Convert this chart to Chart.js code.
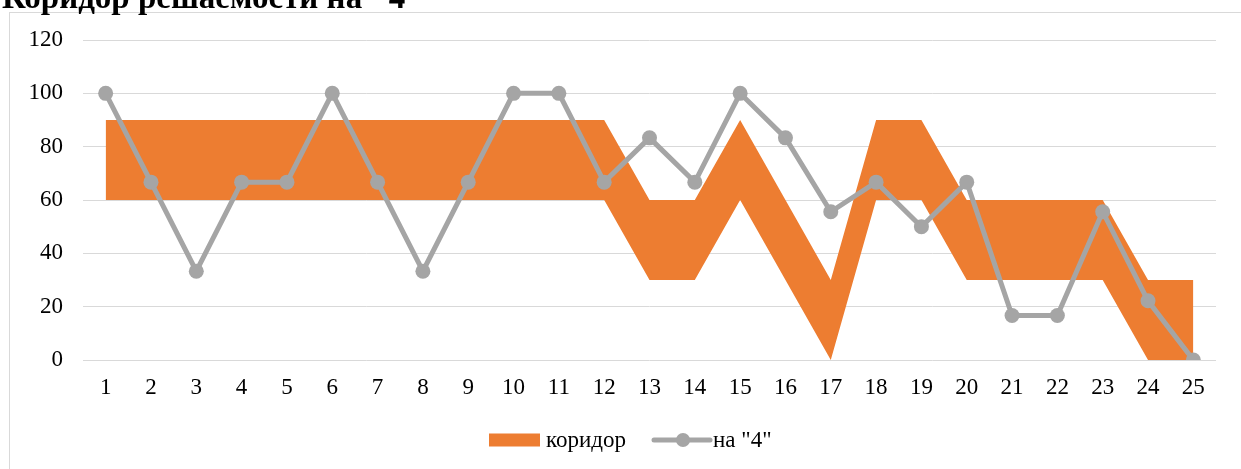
<!DOCTYPE html>
<html lang="ru">
<head>
<meta charset="utf-8">
<title>Коридор решаемости на "4"</title>
<script src="https://cdn.jsdelivr.net/npm/chart.js@4/dist/chart.umd.min.js"></script>
<style>
    html, body { margin: 0; padding: 0; background: #fff; overflow: hidden; }
    #wrap { position: relative; width: 1241px; height: 469px; }
    #frame {
        position: absolute; left: 9px; top: 12px; right: -10px; bottom: -10px;
        border-top: 1px solid #D9D9D9; border-left: 1px solid #D9D9D9;
    }
    #title {
        position: absolute; left: 2px; top: -19px;
        font: bold 33px/33px "Liberation Serif", "Times New Roman", serif;
        color: #000; white-space: nowrap;
    }
    #chart { position: absolute; left: 0; top: 0; }
</style>
</head>
<body>
<div id="wrap">
    <div id="frame"></div>
    <canvas id="chart" width="1241" height="469"></canvas>
    <div id="title">Коридор решаемости на "4"</div>
</div>
<script>
// --- Данные ---
const tasks = ['1','2','3','4','5','6','7','8','9','10','11','12','13',
               '14','15','16','17','18','19','20','21','22','23','24','25'];
// нижняя и верхняя граница коридора
const corridorLow  = [60,60,60,60,60,60,60,60,60,60,60,60,30,30,60,30,0,60,60,30,30,30,30,0,0];
const corridorHigh = [90,90,90,90,90,90,90,90,90,90,90,90,60,60,90,60,30,90,90,60,60,60,60,30,30];
// процент решения на "4"
const grade4 = [100,66.7,33.3,66.7,66.7,100,66.7,33.3,66.7,100,100,66.7,83.3,66.7,100,83.3,55.6,66.7,50,66.7,16.7,16.7,55.6,22.2,0];
const yTicks = [0,20,40,60,80,100,120];

const ORANGE = '#ED7D31';
const GREY = '#A5A5A5';
const FONT = '"Liberation Serif", "Times New Roman", serif';

// --- Легенда внизу (полоса + линия с маркером) ---
const legendPlugin = {
    id: 'bottomLegend',
    afterDraw(chart) {
        const ctx = chart.ctx;
        const y = 440;
        ctx.save();
        ctx.font = '23px ' + FONT;
        ctx.fillStyle = '#000';
        ctx.textBaseline = 'middle';

        // коридор
        let x = 489;
        ctx.fillStyle = ORANGE;
        ctx.fillRect(x, y - 6.5, 51, 13);
        ctx.fillStyle = '#000';
        ctx.fillText(chart.data.datasets[2].label, x + 57, y + 1);

        // на "4"
        x = 654;
        ctx.strokeStyle = GREY;
        ctx.lineWidth = 5;
        ctx.lineCap = 'round';
        ctx.beginPath();
        ctx.moveTo(x, y);
        ctx.lineTo(x + 56, y);
        ctx.stroke();
        ctx.fillStyle = GREY;
        ctx.beginPath();
        ctx.arc(x + 29, y, 7, 0, Math.PI * 2);
        ctx.fill();
        ctx.fillStyle = '#000';
        ctx.fillText(chart.data.datasets[0].label, x + 59, y + 1);
        ctx.restore();
    }
};

const chart = new Chart(document.getElementById('chart'), {
    type: 'line',
    data: {
        labels: tasks,
        datasets: [
            {
                label: 'на "4"',
                data: grade4,
                borderColor: GREY,
                backgroundColor: GREY,
                borderWidth: 5,
                pointRadius: 7.5,
                pointBorderWidth: 0,
                pointBackgroundColor: GREY,
                tension: 0,
                fill: false
            },
            {
                label: 'низ',
                data: corridorLow,
                borderWidth: 0,
                pointRadius: 0,
                borderColor: 'rgba(0,0,0,0)',
                fill: false
            },
            {
                label: 'коридор',
                data: corridorHigh,
                borderWidth: 0,
                pointRadius: 0,
                borderColor: 'rgba(0,0,0,0)',
                backgroundColor: ORANGE,
                fill: 1
            }
        ]
    },
    options: {
        responsive: false,
        devicePixelRatio: 1,
        animation: false,
        layout: { padding: { top: 40, right: 25, bottom: 64, left: 0 } },
        plugins: {
            legend: { display: false },
            tooltip: { enabled: false }
        },
        scales: {
            x: {
                offset: true,
                grid: { display: false, drawTicks: false },
                border: { display: false },
                ticks: {
                    color: '#000',
                    font: { family: FONT, size: 23 },
                    padding: 14,
                    maxRotation: 0,
                    autoSkip: false
                },
                afterFit(scale) { scale.height = 45; }
            },
            y: {
                min: 0,
                max: 120,
                afterBuildTicks(scale) { scale.ticks = yTicks.map(v => ({ value: v })); },
                grid: { color: '#D9D9D9', lineWidth: 1, drawTicks: false },
                border: { display: false },
                ticks: {
                    color: '#000',
                    font: { family: FONT, size: 23 },
                    padding: 20
                },
                afterFit(scale) { scale.width = 83; }
            }
        }
    },
    plugins: [legendPlugin]
});
</script>
</body>
</html>
